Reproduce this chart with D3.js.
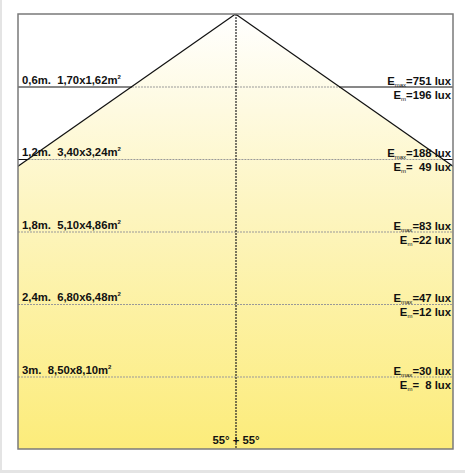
<!DOCTYPE html>
<html>
<head>
<meta charset="utf-8">
<script src="https://cdn.jsdelivr.net/npm/d3@7"></script>
<style>
  body { margin: 0; background: #fff; }
  text { font-family: "Liberation Sans", Arial, sans-serif; font-weight: bold; font-size: 11.3px; fill: #111; white-space: pre; }
</style>
</head>
<body>
<script>
//values
var heights = [0.6, 1.2, 1.8, 2.4, 3];
var heightLabels = ["0,6m.", "1,2m.", "1,8m.", "2,4m.", "3m."];
var areaLabels = ["1,70x1,62m", "3,40x3,24m", "5,10x4,86m", "6,80x6,48m", "8,50x8,10m"];
var emaxValues = ["751", "188", "83", "47", "30"];
var emValues = ["196", "  49", "22", "12", "  8"];
var beamAngle = 55;
var angleLabel = "55° + 55°";

//begin script when window loads
window.onload = drawChart();

function drawChart(){
    var width = 465,
        height = 473;

    var svg = d3.select("body")
        .append("svg")
        .attr("width", width)
        .attr("height", height);

    //grey page edges
    svg.append("rect").attr("x", 0).attr("y", 0).attr("width", 2).attr("height", height).attr("fill", "#e4e4e4");
    svg.append("rect").attr("x", 0).attr("y", 470).attr("width", width).attr("height", 3).attr("fill", "#e4e4e4");

    //box frame
    var left = 18, right = 453, top = 14, bottom = 449;

    //depth in metres -> pixels, same scale horizontally
    var y = d3.scaleLinear().domain([0, 3.6]).range([top, bottom]);
    var x = d3.scaleLinear().domain([-1.8, 1.8]).range([left, right]);

    var tan = Math.tan(beamAngle * Math.PI / 180);

    var defs = svg.append("defs");
    var grad = defs.append("linearGradient")
        .attr("id", "light")
        .attr("gradientUnits", "userSpaceOnUse")
        .attr("x1", 0).attr("y1", top)
        .attr("x2", 0).attr("y2", bottom);
    grad.append("stop").attr("offset", "0%").attr("stop-color", "#ffffff");
    grad.append("stop").attr("offset", "45%").attr("stop-color", "#fdf5c0");
    grad.append("stop").attr("offset", "100%").attr("stop-color", "#fcec7a");

    defs.append("clipPath").attr("id", "box")
        .append("rect")
        .attr("x", left).attr("y", top)
        .attr("width", right - left).attr("height", bottom - top);

    var chart = svg.append("g").attr("clip-path", "url(#box)");

    //light cone
    var maxD = 3.6;
    var cone = [[x(0), y(0)], [x(-maxD * tan), y(maxD)], [x(maxD * tan), y(maxD)]];
    chart.append("path")
        .attr("d", d3.line()(cone) + "Z")
        .attr("fill", "url(#light)");

    //level lines
    heights.forEach(function(h){
        var half = h * tan;
        var xl = Math.max(x(-half), left),
            xr = Math.min(x(half), right);
        chart.append("line")
            .attr("x1", xl).attr("x2", xr)
            .attr("y1", y(h) + 0.5).attr("y2", y(h) + 0.5)
            .attr("stroke", "#999")
            .attr("stroke-dasharray", "2,1");
        if (x(-half) > left){
            chart.append("line")
                .attr("x1", left).attr("x2", x(-half))
                .attr("y1", y(h) + 0.5).attr("y2", y(h) + 0.5)
                .attr("stroke", "#111");
            chart.append("line")
                .attr("x1", x(half)).attr("x2", right)
                .attr("y1", y(h) + 0.5).attr("y2", y(h) + 0.5)
                .attr("stroke", "#111");
        }
    });

    //cone edges
    chart.append("path")
        .attr("d", d3.line()(cone.slice(0, 2)))
        .attr("fill", "none").attr("stroke", "#111").attr("stroke-width", 1.2);
    chart.append("path")
        .attr("d", d3.line()([cone[0], cone[2]]))
        .attr("fill", "none").attr("stroke", "#111").attr("stroke-width", 1.2);

    //centre axis
    chart.append("line")
        .attr("x1", x(0) + 0.5).attr("x2", x(0) + 0.5)
        .attr("y1", top).attr("y2", bottom)
        .attr("stroke", "#222")
        .attr("stroke-width", 1.2)
        .attr("stroke-dasharray", "2,1");

    //frame
    svg.append("rect")
        .attr("x", left).attr("y", top)
        .attr("width", right - left).attr("height", bottom - top)
        .attr("fill", "none")
        .attr("stroke", "#7a7a7a")
        .attr("stroke-width", 1.5);

    //labels
    heights.forEach(function(h, i){
        var t = svg.append("text")
            .attr("x", left + 4)
            .attr("y", y(h) - 3);
        t.append("tspan").text(heightLabels[i] + "  " + areaLabels[i]);
        t.append("tspan").attr("font-size", "6px").attr("dy", -5).text("2");

        var e1 = svg.append("text")
            .attr("x", right - 2)
            .attr("y", y(h) - 2)
            .attr("text-anchor", "end");
        e1.append("tspan").text("E");
        e1.append("tspan").attr("font-size", "6px").attr("font-weight", "normal").attr("dy", 2).text("max");
        e1.append("tspan").attr("dy", -2).text("=" + emaxValues[i] + " lux");

        var e2 = svg.append("text")
            .attr("x", right - 2)
            .attr("y", y(h) + 12)
            .attr("text-anchor", "end");
        e2.append("tspan").text("E");
        e2.append("tspan").attr("font-size", "6px").attr("font-weight", "normal").attr("dy", 2).text("m");
        e2.append("tspan").attr("dy", -2).text("=" + emValues[i] + " lux");
    });

    svg.append("text")
        .attr("x", x(0) + 0.5)
        .attr("y", bottom - 5)
        .attr("text-anchor", "middle")
        .text(angleLabel);
};
</script>
</body>
</html>
